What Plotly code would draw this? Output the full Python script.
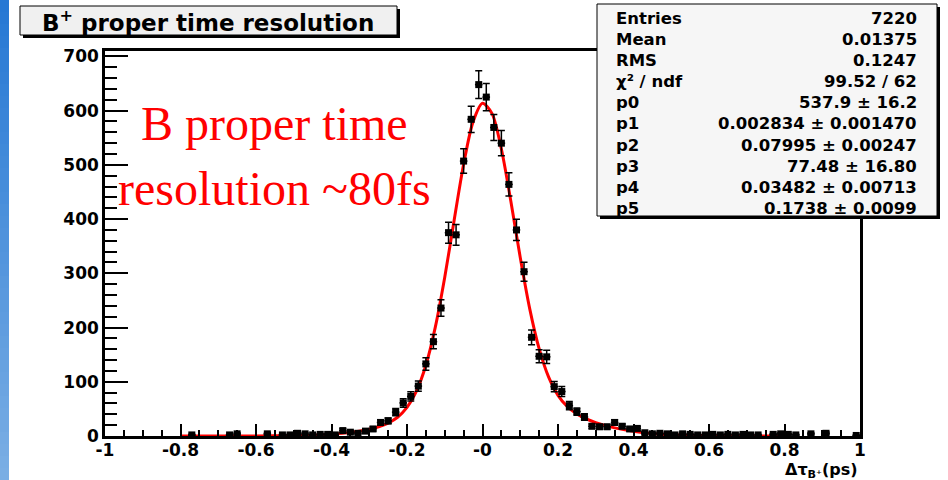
import numpy as np
import plotly.graph_objects as go

# ---------------- data ----------------
bin_x = [-0.77, -0.67, -0.65, -0.57, -0.53, -0.51, -0.49, -0.47, -0.45, -0.43,
         -0.41, -0.39, -0.37, -0.35, -0.33, -0.31, -0.29, -0.27, -0.25, -0.23,
         -0.21, -0.19, -0.17, -0.15, -0.13, -0.11, -0.09, -0.07, -0.05, -0.03,
         -0.01, 0.01, 0.03, 0.05, 0.07, 0.09, 0.11, 0.13, 0.15, 0.17,
         0.19, 0.21, 0.23, 0.25, 0.27, 0.29, 0.31, 0.33, 0.35, 0.37,
         0.39, 0.41, 0.43, 0.45, 0.47, 0.49, 0.51, 0.53, 0.55, 0.57,
         0.59, 0.61, 0.63, 0.65, 0.67, 0.69, 0.71, 0.73, 0.77, 0.79,
         0.81, 0.83, 0.87, 0.91, 0.99]
counts = [2, 2, 4, 4, 2, 2, 5, 4, 2, 3,
          3, 2, 10, 7, 5, 9, 13, 25, 28, 44,
          61, 73, 92, 133, 174, 236, 375, 371, 507, 584,
          648, 625, 569, 540, 464, 380, 303, 182, 147, 146,
          91, 82, 56, 45, 35, 18, 17, 17, 25, 18,
          13, 14, 6, 4, 5, 4, 2, 4, 3, 2,
          2, 3, 2, 3, 2, 3, 2, 2, 3, 4,
          3, 2, 4, 5, 1]
bin_half_width = 0.01

fit_x = [-0.8, -0.7, -0.6, -0.5, -0.45, -0.4, -0.35, -0.3, -0.275, -0.25, -0.225,
         -0.2, -0.175, -0.15, -0.125, -0.1, -0.075, -0.05, -0.025, 0.0, 0.025,
         0.05, 0.075, 0.1, 0.125, 0.15, 0.175, 0.2, 0.225, 0.25, 0.275, 0.3,
         0.35, 0.4, 0.45, 0.5, 0.6, 0.7, 0.8]
fit_y = [0.0, 0.02, 0.1, 0.68, 1.58, 3.4, 6.7, 12.5, 17.1, 23.9, 34.6,
         52.7, 82.8, 130.5, 200.7, 292.7, 398.5, 501.3, 579.3, 613.5, 595.0,
         529.2, 433.3, 329.2, 235.0, 161.0, 108.9, 75.0, 53.9, 40.5, 31.4, 24.7,
         15.0, 8.5, 4.47, 2.16, 0.39, 0.05, 0.0]

x_tick_vals = [-1, -0.8, -0.6, -0.4, -0.2, 0, 0.2, 0.4, 0.6, 0.8, 1]
x_tick_text = ["-1", "-0.8", "-0.6", "-0.4", "-0.2", "-0", "0.2", "0.4", "0.6", "0.8", "1"]
y_tick_vals = [0, 100, 200, 300, 400, 500, 600, 700]

stats_labels = ["Entries", "Mean", "RMS", "χ² / ndf", "p0", "p1", "p2", "p3", "p4", "p5"]
stats_values = ["7220", "0.01375", "0.1247", "99.52 / 62", "537.9 ± 16.2",
                "0.002834 ± 0.001470", "0.07995 ± 0.00247", "77.48 ± 16.80",
                "0.03482 ± 0.00713", "0.1738 ± 0.0099"]

title_text = "B<sup>+</sup> proper time resolution"
note_lines = ["B proper time", "resolution ~80fs"]
x_title = "Δτ<sub>B⁺</sub>(ps)"

# ---------------- layout geometry ----------------
W, H = 948, 480
L, R, T, B = 105, 88, 51, 44
PW, PH = W - L - R, H - T - B


def px(x):
    return (x - L) / PW


def py(y):
    return (H - B - y) / PH


errs = list(np.sqrt(np.array(counts, dtype=float)))

fig = go.Figure()
fig.add_trace(go.Scatter(
    x=fit_x, y=fit_y, mode="lines", line=dict(color="#ff0000", width=3, shape="spline", smoothing=0.8),
    hoverinfo="skip"))
fig.add_trace(go.Scatter(
    x=bin_x, y=counts, mode="markers",
    marker=dict(symbol="square", size=7, color="black"),
    error_y=dict(type="data", array=errs, visible=True, color="black", thickness=1.5, width=3.5),
    error_x=dict(type="constant", value=bin_half_width, visible=True, color="black", thickness=1.5, width=0),
))

tickfont = dict(family="DejaVu Sans", size=17, color="black", weight="bold")
fig.update_layout(
    width=W, height=H, margin=dict(l=L, r=R, t=T, b=B, pad=0),
    paper_bgcolor="white", plot_bgcolor="white", showlegend=False,
    font=dict(family="DejaVu Sans", color="black"),
    xaxis=dict(range=[-1, 1], tickmode="array", tickvals=x_tick_vals, ticktext=x_tick_text,
               ticks="inside", ticklen=12, tickwidth=2, tickcolor="black",
               showline=True, linewidth=2.5, linecolor="black", mirror=True,
               showgrid=False, zeroline=False, tickfont=tickfont, ticklabelstandoff=-3,
               minor=dict(tickmode="linear", tick0=-1, dtick=0.05, ticks="inside",
                          ticklen=6, tickwidth=2, tickcolor="black", showgrid=False)),
    yaxis=dict(range=[0, 710], tickmode="array", tickvals=y_tick_vals,
               ticks="inside", ticklen=23, tickwidth=2, tickcolor="black",
               showline=True, linewidth=2.5, linecolor="black", mirror=True,
               showgrid=False, zeroline=False, tickfont=tickfont,
               minor=dict(tickmode="linear", tick0=0, dtick=20, ticks="inside",
                          ticklen=12, tickwidth=2, tickcolor="black", showgrid=False)),
)

shapes = []
# blue slide edge (gradient made of strips)
n = 40
c0, c1 = (38, 120, 212), (122, 174, 228)
for i in range(n):
    f = i / (n - 1)
    col = "rgb(%d,%d,%d)" % tuple(int(round(a + (b - a) * f)) for a, b in zip(c0, c1))
    y0, y1 = i * H / n, (i + 1) * H / n + 0.5
    shapes.append(dict(type="rect", xref="paper", yref="paper", x0=px(0), x1=px(9),
                       y0=py(y1), y1=py(y0), fillcolor=col, line=dict(width=0), layer="above"))
# title box with shadow
shapes.append(dict(type="rect", xref="paper", yref="paper", x0=px(23), x1=px(400), y0=py(38), y1=py(9),
                   fillcolor="black", line=dict(width=0), layer="above"))
shapes.append(dict(type="rect", xref="paper", yref="paper", x0=px(20), x1=px(397), y0=py(35), y1=py(6),
                   fillcolor="#f0f0f0", line=dict(width=1, color="black"), layer="above"))
# stats box with shadow
shapes.append(dict(type="rect", xref="paper", yref="paper", x0=px(600), x1=px(940), y0=py(219), y1=py(7),
                   fillcolor="black", line=dict(width=0), layer="above"))
shapes.append(dict(type="rect", xref="paper", yref="paper", x0=px(597), x1=px(937), y0=py(216), y1=py(4),
                   fillcolor="#f6f6f6", line=dict(width=1, color="black"), layer="above"))
fig.update_layout(shapes=shapes)

ann = []
ann.append(dict(text=title_text, x=px(208), y=py(21), xref="paper", yref="paper", showarrow=False,
                xanchor="center", yanchor="middle",
                font=dict(family="DejaVu Sans", size=23, color="black", weight="bold")))
row_y0, row_dy = 18, 21.2
for i, (lab, val) in enumerate(zip(stats_labels, stats_values)):
    yy = row_y0 + i * row_dy
    ann.append(dict(text=lab, x=px(614), y=py(yy), xref="paper", yref="paper", showarrow=False,
                    xanchor="left", yanchor="middle",
                    font=dict(family="DejaVu Sans", size=16.5, color="black", weight="bold")))
    ann.append(dict(text=val, x=px(919), y=py(yy), xref="paper", yref="paper", showarrow=False,
                    xanchor="right", yanchor="middle",
                    font=dict(family="DejaVu Sans", size=16.5, color="black", weight="bold")))
ann.append(dict(text=x_title, x=px(860), y=py(470.5), xref="paper", yref="paper", showarrow=False,
                xanchor="right", yanchor="middle",
                font=dict(family="DejaVu Sans", size=16, color="black", weight="bold")))
for txt, cx, cy in zip(note_lines, [274, 274], [124, 188]):
    ann.append(dict(text=txt, x=px(cx), y=py(cy), xref="paper", yref="paper", showarrow=False,
                    xanchor="center", yanchor="middle",
                    font=dict(family="Liberation Serif", size=48, color="#ff0000")))
fig.update_layout(annotations=ann)

fig.write_html("out.html")
